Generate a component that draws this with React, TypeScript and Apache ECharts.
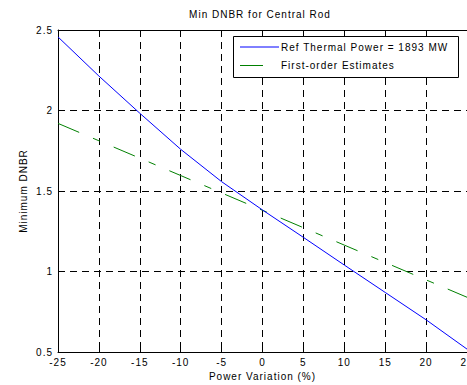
import React, { useEffect, useRef } from "react";
import * as echarts from "echarts";

const xValues = [-25, -20, -15, -10, -5, 0, 5, 10, 15, 20, 25];
const refPower = [2.457, 2.214, 1.983, 1.759, 1.558, 1.382, 1.212, 1.04, 0.87, 0.7, 0.518];
const firstOrder = [1.92, 1.812, 1.704, 1.596, 1.488, 1.38, 1.272, 1.164, 1.056, 0.948, 0.84];
const seriesNames = ["Ref Thermal Power = 1893 MW", "First-order Estimates"];
const titleText = "Min DNBR for Central Rod";
const xName = "Power Variation (%)";
const yName = "Minimum DNBR";

const FONT = "'Liberation Sans', Arial, sans-serif";
const BLUE = "#0000ff";
const GREEN = "#008000";
const GRID_DASH = [7, 5];
const EST_DASH = [23, 15, 7.5, 15];

export default function App() {
  const ref = useRef<HTMLDivElement>(null);
  useEffect(() => {
    if (!ref.current) return;
    const chart = echarts.init(ref.current, undefined, { renderer: "svg" });
    const axisText = { color: "#000", fontSize: 10, fontFamily: FONT };
    chart.setOption({
      animation: false,
      backgroundColor: "#fff",
      textStyle: { fontFamily: FONT },
      title: {
        text: titleText,
        left: 260,
        top: 9,
        textAlign: "center",
        padding: 0,
        textStyle: { color: "#000", fontSize: 10, fontWeight: "normal", fontFamily: FONT },
      },
      grid: { left: 58, top: 30, right: 0, bottom: 33, containLabel: false, outerBoundsMode: "none" },
      xAxis: [
        {
          type: "value",
          min: -25,
          max: 25,
          interval: 5,
          name: xName,
          nameLocation: "middle",
          nameGap: 19,
          nameTextStyle: { ...axisText },
          axisLine: { show: true, onZero: false, lineStyle: { color: "#000", width: 1 } },
          axisTick: { show: true, inside: true, length: 5, lineStyle: { color: "#000" } },
          axisLabel: { ...axisText, margin: 5, hideOverlap: false },
          splitLine: { show: true, lineStyle: { color: "#000", width: 1, type: GRID_DASH } },
        },
        {
          type: "value",
          position: "top",
          min: -25,
          max: 25,
          interval: 5,
          axisLine: { show: true, onZero: false, lineStyle: { color: "#000", width: 1 } },
          axisTick: { show: true, inside: true, length: 5, lineStyle: { color: "#000" } },
          axisLabel: { show: false },
          splitLine: { show: false },
        },
      ],
      yAxis: [
        {
          type: "value",
          min: 0.5,
          max: 2.5,
          interval: 0.5,
          name: yName,
          nameLocation: "middle",
          nameGap: 30,
          nameTextStyle: { ...axisText },
          axisLine: { show: true, onZero: false, lineStyle: { color: "#000", width: 1 } },
          axisTick: { show: true, inside: true, length: 5, lineStyle: { color: "#000" } },
          axisLabel: { ...axisText, margin: 5 },
          splitLine: { show: true, lineStyle: { color: "#000", width: 1, type: GRID_DASH } },
        },
      ],
      series: [
        {
          name: seriesNames[0],
          type: "line",
          xAxisIndex: 0,
          data: xValues.map((x, i) => [x, refPower[i]]),
          symbol: "none",
          lineStyle: { color: BLUE, width: 1 },
          z: 3,
        },
        {
          name: seriesNames[1],
          type: "line",
          xAxisIndex: 0,
          data: xValues.map((x, i) => [x, firstOrder[i]]),
          symbol: "none",
          lineStyle: { color: GREEN, width: 1, type: EST_DASH },
          z: 2,
        },
      ],
      graphic: [
        {
          type: "rect",
          z: 100,
          zlevel: 0,
          shape: { x: 233.5, y: 36.5, width: 225, height: 41 },
          style: { fill: "#fff", stroke: "#000", lineWidth: 1 },
        },
        {
          type: "line",
          z: 101,
          shape: { x1: 240, y1: 47, x2: 279, y2: 47 },
          style: { stroke: BLUE, lineWidth: 1 },
        },
        {
          type: "text",
          z: 101,
          x: 281,
          y: 47,
          style: {
            text: seriesNames[0],
            fill: "#000",
            font: "10px " + FONT,
            verticalAlign: "middle",
          },
        },
        {
          type: "line",
          z: 101,
          shape: { x1: 240, y1: 65.5, x2: 277, y2: 65.5 },
          style: { stroke: GREEN, lineWidth: 1, lineDash: EST_DASH },
        },
        {
          type: "text",
          z: 101,
          x: 281,
          y: 65,
          style: {
            text: seriesNames[1],
            fill: "#000",
            font: "10px " + FONT,
            verticalAlign: "middle",
          },
        },
      ],
    });
    return () => chart.dispose();
  }, []);
  return (
    <>
      <style>{"#chartbox text { letter-spacing: 1px; }"}</style>
      <div
        id="chartbox"
        ref={ref}
        style={{ position: "fixed", left: 0, top: 0, width: 467, height: 385, background: "#fff" }}
      />
    </>
  );
}
